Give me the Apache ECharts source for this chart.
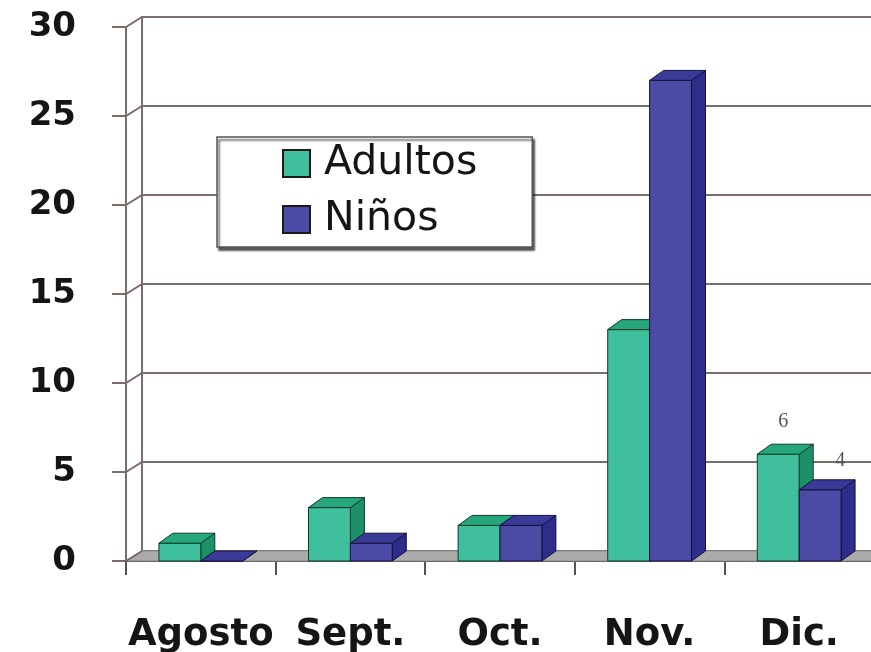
<!DOCTYPE html>
<html>
<head>
<meta charset="utf-8">
<script src="https://cdn.jsdelivr.net/npm/echarts@6/dist/echarts.min.js"></script>
<style>
  html, body { margin: 0; padding: 0; background: #fff; }
  #chart { width: 871px; height: 652px; }
</style>
</head>
<body>
<div id="chart"></div>
<script>
// Casos por mes, adultos y niños
const months = ['Agosto', 'Sept.', 'Oct.', 'Nov.', 'Dic.'];
const adultos = [1, 3, 2, 13, 6];
const ninos = [0, 1, 2, 27, 4];
const yTicks = [0, 5, 10, 15, 20, 25, 30];
const labelledMonth = 'Dic.';

// depth of the 3D look
const WALL_DX = 16, WALL_DY = -10;
const BAR_DX = 14, BAR_DY = -10;
const BAR_RATIO = 0.28;

const faces = {
  adultos: { front: '#3fbf9b', top: '#25a67c', side: '#1c9168', edge: '#0e3b2b' },
  ninos:   { front: '#4b4ba6', top: '#3a3a99', side: '#2d2d8a', edge: '#12123f' }
};

function barRenderer(side, pal, labelShift, labelRise) {
  return function (params, api) {
    const cat = api.value(0), val = api.value(1);
    const base = api.coord([cat, 0]);
    const top = api.coord([cat, val]);
    const w = api.size([1, 0])[0] * BAR_RATIO;
    const x0 = side === 0 ? base[0] - w : base[0];
    const yb = base[1], yt = top[1];
    const edge = { stroke: pal.edge, lineWidth: 1 };
    const children = [
      { type: 'polygon', shape: { points: [[x0 + w, yt], [x0 + w + BAR_DX, yt + BAR_DY], [x0 + w + BAR_DX, yb + BAR_DY], [x0 + w, yb]] },
        style: Object.assign({ fill: pal.side }, edge) },
      { type: 'rect', shape: { x: x0, y: yt, width: w, height: yb - yt },
        style: Object.assign({ fill: pal.front }, edge) },
      { type: 'polygon', shape: { points: [[x0, yt], [x0 + BAR_DX, yt + BAR_DY], [x0 + w + BAR_DX, yt + BAR_DY], [x0 + w, yt]] },
        style: Object.assign({ fill: pal.top }, edge) }
    ];
    if (months[cat] === labelledMonth) {
      children.push({
        type: 'text',
        style: {
          x: x0 + w / 2 + labelShift, y: yt - labelRise, text: String(val),
          fill: '#555', font: '20px "Liberation Serif", serif',
          align: 'center', verticalAlign: 'middle'
        }
      });
    }
    return { type: 'group', children: children };
  };
}

// floor slab and the slanted joints between the front axis and the back wall
function frameRenderer(params, api) {
  const cs = params.coordSys;
  const v = api.value(0);
  const p = api.coord([0, v]);
  const y = p[1];
  const children = [];
  if (v === 0) {
    children.push({
      type: 'polygon',
      shape: { points: [[cs.x, y], [cs.x + WALL_DX, y + WALL_DY], [cs.x + cs.width + WALL_DX, y + WALL_DY], [cs.x + cs.width, y]] },
      style: { fill: '#ababab', stroke: '#8d8d8d', lineWidth: 1 }
    });
  }
  children.push({
    type: 'line',
    shape: { x1: cs.x, y1: y, x2: cs.x + WALL_DX, y2: y + WALL_DY },
    style: { stroke: '#766a66', lineWidth: 2 }
  });
  return { type: 'group', children: children };
}

const chart = echarts.init(document.getElementById('chart'), null, { renderer: 'canvas' });

const lineColor = '#7a6e6a';
const labelFont = '"DejaVu Sans", sans-serif';

chart.setOption({
  backgroundColor: '#ffffff',
  animation: false,
  grid: [
    { left: 126 + WALL_DX, top: 27 + WALL_DY, width: 748, height: 534, outerBoundsMode: 'none' },
    { left: 126, top: 27, width: 748, height: 534, outerBoundsMode: 'none' }
  ],
  xAxis: [
    { gridIndex: 0, type: 'category', data: months, show: false },
    {
      gridIndex: 1, type: 'category', data: months,
      axisLine: { show: true, lineStyle: { color: '#4a4442', width: 2 } },
      axisTick: { show: true, length: 14, alignWithLabel: false, lineStyle: { color: '#5a5250', width: 2 } },
      axisLabel: { margin: 56, interval: 0, fontFamily: labelFont, fontWeight: 'bold', fontSize: 37, color: '#151515' },
      splitLine: { show: false }
    }
  ],
  yAxis: [
    {
      gridIndex: 0, type: 'value', min: 0, max: 30, interval: 5,
      axisLine: { show: true, lineStyle: { color: lineColor, width: 2 } },
      axisTick: { show: false },
      axisLabel: { show: false },
      splitLine: { show: true, lineStyle: { color: lineColor, width: 2 } }
    },
    {
      gridIndex: 1, type: 'value', min: 0, max: 30, interval: 5,
      axisLine: { show: true, lineStyle: { color: lineColor, width: 2 } },
      axisTick: { show: true, length: 14, lineStyle: { color: lineColor, width: 2 } },
      axisLabel: { margin: 50, fontFamily: labelFont, fontWeight: 'bold', fontSize: 34, color: '#151515' },
      splitLine: { show: false }
    }
  ],
  legend: {
    left: 217, top: 137, orient: 'vertical',
    backgroundColor: '#ffffff',
    borderColor: '#555', borderWidth: 1.5,
    shadowColor: 'rgba(0,0,0,0.65)', shadowOffsetX: 2, shadowOffsetY: 3, shadowBlur: 2,
    padding: [6, 55, 7, 65],
    itemWidth: 27, itemHeight: 27, itemGap: 15,
    textStyle: { fontFamily: labelFont, fontSize: 41, lineHeight: 40, color: '#151515', padding: [0, 0, 0, 9] },
    data: [
      { name: 'Adultos', icon: 'rect', itemStyle: { color: faces.adultos.front, borderColor: '#1a1a1a', borderWidth: 2 } },
      { name: 'Niños', icon: 'rect', itemStyle: { color: faces.ninos.front, borderColor: '#1a1a1a', borderWidth: 2 } }
    ]
  },
  series: [
    {
      type: 'custom', name: 'frame', xAxisIndex: 1, yAxisIndex: 1, z: 1, silent: true,
      renderItem: frameRenderer,
      data: yTicks.map(function (t) { return [t]; }),
      encode: { y: 0 }
    },
    {
      type: 'custom', name: 'Adultos', xAxisIndex: 1, yAxisIndex: 1, z: 3,
      itemStyle: { color: faces.adultos.front },
      renderItem: barRenderer(0, faces.adultos, 5, 32),
      data: adultos.map(function (v, i) { return [i, v]; }),
      encode: { x: 0, y: 1 }
    },
    {
      type: 'custom', name: 'Niños', xAxisIndex: 1, yAxisIndex: 1, z: 4,
      itemStyle: { color: faces.ninos.front },
      renderItem: barRenderer(1, faces.ninos, 20, 29),
      data: ninos.map(function (v, i) { return [i, v]; }),
      encode: { x: 0, y: 1 }
    }
  ]
});
</script>
</body>
</html>
